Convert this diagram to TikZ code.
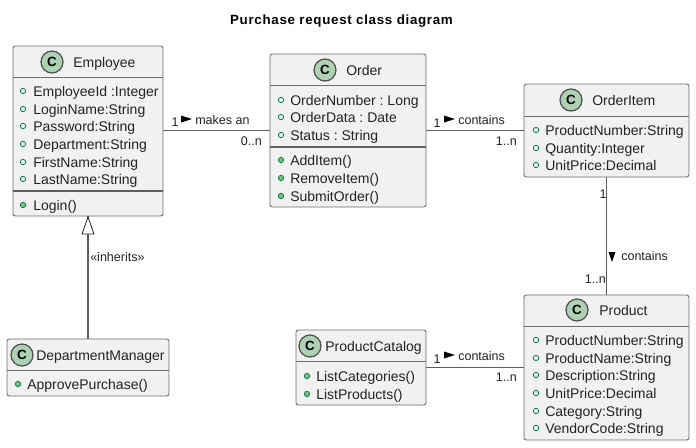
\documentclass[tikz,border=0pt]{standalone}
\usepackage{fontspec}
\setmainfont{Liberation Sans}
\newfontfamily\titlefont[LetterSpace=5.25]{Liberation Sans}
\definecolor{boxline}{HTML}{6E6E6E}
\definecolor{boxfill}{HTML}{F1F1F1}
\definecolor{linkline}{HTML}{5E5E5E}
\definecolor{spotfill}{HTML}{ADD1B2}
\definecolor{inkcol}{HTML}{222222}
\definecolor{dotline}{HTML}{038048}
\definecolor{dotfill}{HTML}{84BE84}
\tikzset{
  x=0.75pt,y=-0.75pt,
  classbox/.style={draw=boxline,fill=boxfill,line width=0.7pt,rounded corners=1.8pt,inner sep=0pt,outer sep=0pt},
  divider/.style={draw=boxline,line width=0.7pt},
  strongdivider/.style={draw=linkline,line width=1pt},
  spot/.style={circle,draw=boxline!70!black,fill=spotfill,line width=0.9pt,minimum size=16.5pt,inner sep=0pt,font=\fontsize{10pt}{12pt}\selectfont\bfseries,text=black},
  classname/.style={anchor=base west,inner sep=0pt,font=\fontsize{10.5pt}{12pt}\selectfont,text=inkcol},
  memtext/.style={anchor=base west,inner sep=0pt,font=\fontsize{10.5pt}{12pt}\selectfont,text=inkcol},
  linktext/.style={inner sep=0pt,font=\fontsize{9.4pt}{11pt}\selectfont,text=inkcol},
  link/.style={draw=linkline,line width=1pt},
  wedge/.style={fill=black,draw=none},
  opendot/.style={draw=dotline,fill=none,line width=0.6pt},
  soliddot/.style={draw=dotline,fill=dotfill,line width=0.6pt},
}
\frenchspacing
% name, x1, y1, x2, y2
\newcommand{\umlbox}[5]{%
  \pgfmathsetmacro{\ubw}{(#4-#2)*0.75}%
  \pgfmathsetmacro{\ubh}{(#5-#3)*0.75}%
  \node[classbox,minimum width=\ubw pt,minimum height=\ubh pt] (#1) at ({(#2+#4)/2},{(#3+#5)/2}) {};%
}
\newcommand{\umlrule}[2]{\draw[divider] (#1.west |- 0,#2) -- (#1.east |- 0,#2);}
\newcommand{\umlsep}[2]{\draw[strongdivider] (#1.west |- 0,#2) -- (#1.east |- 0,#2);}
% open / solid member: dot x, text x, y, text
\newcommand{\attrline}[4]{\draw[opendot] (#1,#3) circle (2pt); \node[memtext] at (#2,#3+5) {#4};}
\newcommand{\operline}[4]{\draw[soliddot] (#1,#3) circle (2pt); \node[memtext] at (#2,#3+5) {#4};}
\begin{document}
\begin{tikzpicture}
\useasboundingbox (0,0) rectangle (696,447);
\fill[white] (0,0) rectangle (696,447);

\node[inner sep=0pt,font=\fontsize{10pt}{12pt}\titlefont\bfseries,text=black] (title) at (341.5,21) {Purchase request class diagram};

% Boxes
\umlbox{emp}{13}{46}{163}{216}
\umlbox{ord}{270}{54}{426}{207}
\umlbox{item}{524}{84}{689}{177}
\umlbox{prod}{524}{295}{689}{440}
\umlbox{cat}{296}{330}{426}{405}
\umlbox{mgr}{7}{339}{169}{396}

% Connectors
\draw[link] (emp.east |- ord) -- (ord);
\draw[link] (ord) -- (item);
\draw[link] (item) -- (prod);
\draw[link] (cat) -- (prod);
\draw[link] (mgr) -- (emp);

% Inheritance head
\draw[draw=inkcol,fill=white,line width=0.6pt] (88,217) -- (94,234) -- (82,234) -- cycle;

% Dividers
\umlrule{emp}{77} \umlsep{emp}{191}
\umlrule{ord}{85} \umlsep{ord}{147}
\umlrule{item}{116}
\umlrule{prod}{326}
\umlrule{cat}{361}
\umlrule{mgr}{370}

% Headers
\node[spot] (empC) at (52,62) {C};   \node[classname] (empN) at (73,67) {Employee};
\node[spot] (ordC) at (325,70) {C};  \node[classname] (ordN) at (346,75) {Order};
\node[spot] (itemC) at (571,100) {C};\node[classname] (itemN) at (592,105) {OrderItem};
\node[spot] (prodC) at (577,310) {C};\node[classname] (prodN) at (599,315) {Product};
\node[spot] (catC) at (310,346) {C}; \node[classname] (catN) at (325,351) {ProductCatalog};
\node[spot] (mgrC) at (22,355) {C};  \node[classname] (mgrN) at (36,360) {DepartmentManager};

% Members
\attrline{23}{33}{91}{EmployeeId :Integer}
\attrline{23}{33}{109}{LoginName:String}
\attrline{23}{33}{126}{Password:String}
\attrline{23}{33}{144}{Department:String}
\attrline{23}{33}{162}{FirstName:String}
\attrline{23}{33}{179}{LastName:String}
\operline{23}{33}{205}{Login()}

\attrline{281}{290}{100}{OrderNumber : Long}
\attrline{281}{290}{117}{OrderData : Date}
\attrline{281}{290}{135}{Status : String}
\operline{281}{290}{160}{AddItem()}
\operline{281}{290}{178}{RemoveItem()}
\operline{281}{290}{196}{SubmitOrder()}

\attrline{536}{545}{130}{ProductNumber:String}
\attrline{536}{545}{148}{Quantity:Integer}
\attrline{536}{545}{165}{UnitPrice:Decimal}

\attrline{536}{545}{340}{ProductNumber:String}
\attrline{536}{545}{358}{ProductName:String}
\attrline{536}{545}{375}{Description:String}
\attrline{536}{545}{393}{UnitPrice:Decimal}
\attrline{536}{545}{411}{Category:String}
\attrline{536}{545}{428}{VendorCode:String}

\operline{307}{316}{376}{ListCategories()}
\operline{307}{316}{394}{ListProducts()}

\operline{18}{27}{384}{ApprovePurchase()}

% Link labels
\node[linktext] (l1a) at (175,122.5) {1};
\fill[wedge] (181,115.5) -- (192,119) -- (181,122.5) -- cycle;
\node[linktext,anchor=west] (l1b) at (195,120) {makes an};
\node[linktext,anchor=east] (l1c) at (262,141) {0..n};

\node[linktext] (l2a) at (437,123) {1};
\fill[wedge] (444,115.5) -- (455,119) -- (444,122.5) -- cycle;
\node[linktext,anchor=west] (l2b) at (458,120) {contains};
\node[linktext,anchor=east] (l2c) at (517,141) {1..n};

\node[linktext] (l3a) at (603,194) {1};
\fill[wedge] (608.5,252) -- (615.5,252) -- (612,262) -- cycle;
\node[linktext,anchor=west] (l3b) at (621,256) {contains};
\node[linktext,anchor=east] (l3c) at (606,279) {1..n};

\node[linktext] (l4a) at (437,359) {1};
\fill[wedge] (444,351.5) -- (455,355) -- (444,358.5) -- cycle;
\node[linktext,anchor=west] (l4b) at (458,356) {contains};
\node[linktext,anchor=east] (l4c) at (517,377) {1..n};

\node[linktext,anchor=west] (l5) at (90,257) {«inherits»};
\end{tikzpicture}
\end{document}
